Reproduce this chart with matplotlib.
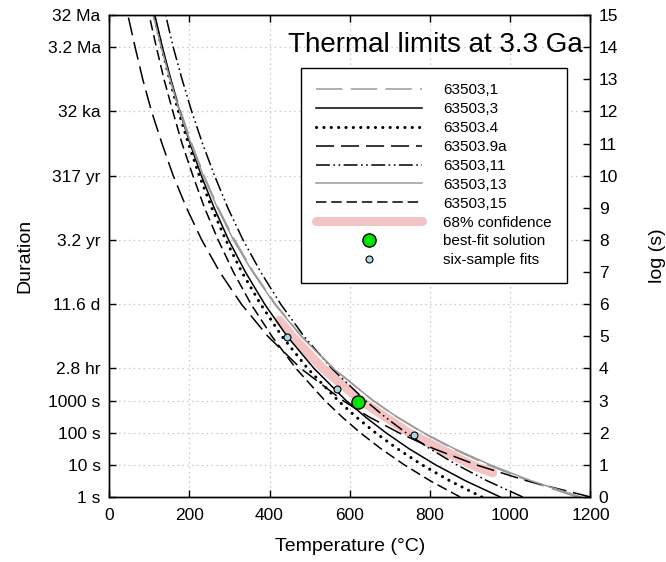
import matplotlib
matplotlib.use('Agg')
import matplotlib.pyplot as plt

plt.rcParams['font.family'] = ['Liberation Sans', 'DejaVu Sans']
plt.rcParams['lines.scale_dashes'] = False

# log10 duration (s) levels at which each curve's temperature was read
log_levels = [0, 0.5, 1, 1.5, 2, 2.5, 3, 4, 5, 6, 7, 8, 9, 10, 11, 12, 13, 14, 15]

T_63503_1 = [1166, 1046, 944, 857, 782, 716, 658, 560, 480, 415, 360, 313, 272, 237, 206, 179, 154, 132, 113]
T_63503_3 = [975, 889, 814, 748, 690, 638, 591, 511, 444, 388, 340, 298, 262, 230, 202, 176, 154, 133, 114]
T_63503_4 = [929, 850, 780, 719, 664, 615, 571, 495, 431, 378, 331, 291, 256, 225, 198, 173, 151, 131, 112]
T_63503_9a = [1200, 1042, 915, 810, 722, 647, 583, 478, 396, 330, 276, 231, 193, 160, 132, 106, 84, 65, 47]
T_63503_11 = [1031, 943, 867, 800, 740, 687, 639, 555, 486, 428, 378, 334, 296, 263, 233, 206, 182, 160, 141]
T_63503_13 = [1176, 1053, 950, 861, 784, 717, 658, 559, 479, 413, 358, 310, 270, 235, 204, 176, 152, 130, 110]
T_63503_15 = [875, 801, 736, 678, 626, 580, 538, 466, 406, 354, 310, 272, 238, 209, 182, 159, 137, 118, 100]

# 68% confidence band (center line)
band_log = [5.5, 5, 4, 3, 2, 1, 0.75]
band_T = [425, 457, 533, 628, 747, 903, 957]

best_T = [620]
best_log = [2.95]
six_T = [443, 567, 760]
six_log = [4.98, 3.36, 1.93]

left_tick_pos = [15, 14, 12, 10, 8, 6, 4, 3, 2, 1, 0]
left_tick_labels = ['32 Ma', '3.2 Ma', '32 ka', '317 yr', '3.2 yr', '11.6 d',
                    '2.8 hr', '1000 s', '100 s', '10 s', '1 s']
right_ticks = list(range(0, 16))
x_ticks = [0, 200, 400, 600, 800, 1000, 1200]

fig = plt.figure(figsize=(6.66, 5.62), dpi=100)
ax = fig.add_axes([0.1637, 0.1157, 0.7229, 0.8576])

gray = '#9a9a9a'
lw = 1.1

# grid
for y in [14, 12, 10, 8, 6, 4, 3, 2, 1]:
    ax.axhline(y, color='#c4c4c4', lw=0.9, ls=(0, (1, 2.5)), zorder=0)
for x in [200, 400, 600, 800, 1000]:
    ax.axvline(x, color='#c4c4c4', lw=0.9, ls=(0, (1, 2.5)), zorder=0)

ax.plot(band_T, band_log, color='#f4c4c4', lw=6.5, solid_capstyle='round', zorder=1,
        label='68% confidence')

ax.plot(T_63503_1, log_levels, color=gray, lw=lw, ls=(0, (19, 6)), label='63503,1', zorder=2)
ax.plot(T_63503_3, log_levels, color='black', lw=lw, ls='-', label='63503,3', zorder=2)
ax.plot(T_63503_4, log_levels, color='black', lw=2.2, ls=(0, (0.1, 5.2)),
        dash_capstyle='round', label='63503.4', zorder=2)
ax.plot(T_63503_9a, log_levels, color='black', lw=lw, ls=(0, (13, 5)), label='63503.9a', zorder=2)
ax.plot(T_63503_11, log_levels, color='black', lw=lw,
        ls=(0, (10, 2.5, 1.2, 2.5, 1.2, 2.5)), label='63503,11', zorder=2)
ax.plot(T_63503_13, log_levels, color=gray, lw=lw, ls='-', label='63503,13', zorder=2)
ax.plot(T_63503_15, log_levels, color='black', lw=lw, ls=(0, (7.5, 3.5)), label='63503,15', zorder=2)

ax.plot(best_T, best_log, 'o', ms=9.5, mfc='#00e600', mec='black', mew=1.0, ls='none',
        label='best-fit solution', zorder=4)
ax.plot(six_T, six_log, 'o', ms=5, mfc='#a9d9e3', mec='black', mew=0.8, ls='none',
        label='six-sample fits', zorder=4)

ax.set_xlim(0, 1200)
ax.set_ylim(0, 15)
ax.set_xticks(x_ticks)
ax.set_yticks(left_tick_pos)
ax.set_yticklabels(left_tick_labels)
ax.tick_params(axis='both', direction='in', length=5, width=1, labelsize=12.5, top=True)
ax.tick_params(axis='y', pad=6)
ax.tick_params(axis='x', pad=8)
ax.set_xlabel('Temperature (°C)', fontsize=14, labelpad=11)
ax.set_ylabel('Duration', fontsize=14, labelpad=10)

ax2 = ax.twinx()
ax2.set_ylim(0, 15)
ax2.set_yticks(right_ticks)
ax2.tick_params(axis='y', direction='in', length=5, width=1, labelsize=12.5, pad=6)
ax2.set_ylabel('log (s)', fontsize=14, labelpad=22)

for a in (ax, ax2):
    for s in a.spines.values():
        s.set_linewidth(1.0)

ax.text(0.984, 0.938, 'Thermal limits at 3.3 Ga', transform=ax.transAxes,
        ha='right', va='center', fontsize=20)

handles, labels = ax.get_legend_handles_labels()
order = ['63503,1', '63503,3', '63503.4', '63503.9a', '63503,11', '63503,13',
         '63503,15', '68% confidence', 'best-fit solution', 'six-sample fits']
hmap = dict(zip(labels, handles))
leg = ax.legend([hmap[k] for k in order], order, loc='upper left',
                bbox_to_anchor=(0.399, 0.890), borderaxespad=0, fontsize=11,
                frameon=True, fancybox=False, edgecolor='black', framealpha=1,
                handlelength=6.9, handletextpad=1.4, labelspacing=0.32,
                borderpad=1.0)
leg.get_frame().set_linewidth(1.0)
leg.set_zorder(5)

fig.savefig('out.png', dpi=100)
